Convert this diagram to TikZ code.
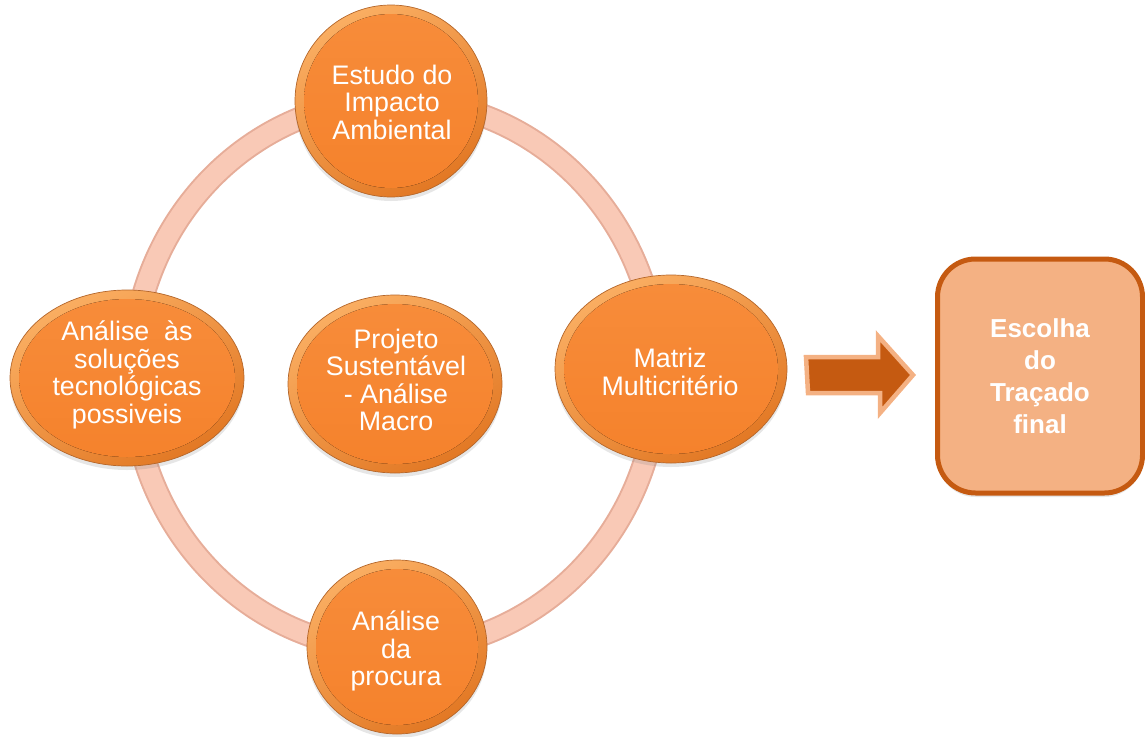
\documentclass[tikz,border=0pt]{standalone}
\usepackage{fontspec}
\setmainfont{Liberation Sans}
\usetikzlibrary{shapes.geometric,shadows}

\definecolor{ringfill}{HTML}{F9C9B6}
\definecolor{ringedge}{HTML}{E6AD99}
\definecolor{disc}{HTML}{F5822C}
\definecolor{disctop}{HTML}{F78C3A}
\definecolor{rimlight}{HTML}{FAAE62}
\definecolor{rimshade}{HTML}{E27824}
\definecolor{rimdark}{HTML}{B4662A}
\definecolor{burnt}{HTML}{C55A11}
\definecolor{peach}{HTML}{F4B183}

\tikzset{
  bubble/.style={ellipse, draw=rimdark, line width=0.7pt, inner sep=0pt,
    top color=rimlight, bottom color=rimshade, shading angle=30,
    drop shadow={opacity=.2, shadow xshift=0pt, shadow yshift=-4pt}},
  disc/.style={top color=disctop, bottom color=disc},
  btext/.style={text=white, align=center, inner sep=0pt,
    font=\fontsize{26.8}{27.5}\selectfont},
  finalbox/.style={draw=burnt, fill=peach, line width=5pt, rounded corners=38pt,
    text=white, align=center, font=\bfseries\fontsize{26}{32}\selectfont,
    drop shadow={opacity=.2, shadow xshift=0pt, shadow yshift=-4pt}},
  blockarrow/.style={fill=burnt, draw=peach, line width=4.5pt, line join=miter},
}

% bubble: name, x, y, x radius, y radius
\newcommand\bubblenode[5]{%
  \node[bubble, minimum width=2*#4, minimum height=2*#5] (#1) at (#2,#3) {};
  \fill[disc] (#1.center) ellipse [x radius=#4-9, y radius=#5-9];
}

\begin{document}
\begin{tikzpicture}[x=1pt,y=-1pt]
\useasboundingbox (0,0) rectangle (1145,736);

% the ring joining the four outer steps
\draw[ringedge, line width=24pt] (395,375) ellipse [x radius=263, y radius=275];
\draw[ringfill, line width=20pt] (395,375) ellipse [x radius=263, y radius=275];

% steps
\bubblenode{top}{391}{101}{96}{96}
\node[btext] (top-t) at (392,102) {Estudo do\\Impacto\\Ambiental};

\bubblenode{left}{127}{378}{117}{88}
\node[btext] (left-t) at (127,375) {Análise\ \ às\\soluções\\tecnológicas\\possiveis};

\bubblenode{mid}{395}{384}{107}{89}
\node[btext] (mid-t) at (396,380) {Projeto\\Sustentável\\- Análise\\Macro};

\bubblenode{right}{671}{369}{116}{94}
\node[btext] (right-t) at (670,372) {Matriz\\Multicritério};

\bubblenode{bottom}{397}{647}{90}{87}
\node[btext] (bottom-t) at (396,651) {Análise\\da\\procura};

% outcome
\node[finalbox, minimum width=205pt, minimum height=234pt] (final) at (1040,376)
  {Escolha\\do\\Traçado\\final};

% block arrow from the ring to the outcome
\path (final.west) ++(-129,-19) coordinate (a0);
\filldraw[blockarrow] (a0) -- ++(72,0) -- ++(0,-21) -- (913,375) -- (880,413)
  -- (880,393) -- (808,393) -- cycle;
\end{tikzpicture}
\end{document}
